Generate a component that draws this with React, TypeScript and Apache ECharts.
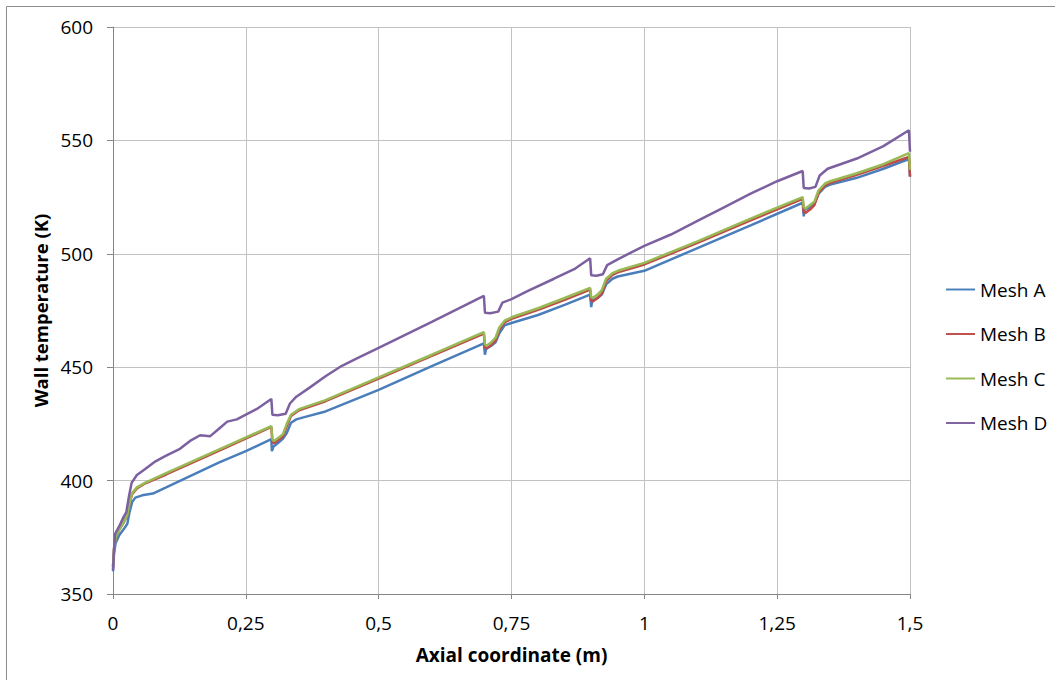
import React, { useEffect, useRef } from "react";
import * as echarts from "echarts";

const seriesNames = ["Mesh A", "Mesh B", "Mesh C", "Mesh D"];
const seriesColors = ["#4a7ebb", "#be4b48", "#98b954", "#7d60a0"];

const meshA: [number, number][] = [
  [0, 360], [0.002, 368], [0.005, 372.5], [0.012, 376], [0.02, 378.5], [0.027, 381], [0.031, 386], [0.036, 390.5],
  [0.042, 392.5], [0.055, 393.5], [0.075, 394.3], [0.1, 397], [0.15, 402.5], [0.2, 408], [0.25, 413], [0.298, 418.3],
  [0.299, 413], [0.302, 415], [0.31, 416.5], [0.32, 418.5], [0.327, 421], [0.335, 425.5], [0.345, 427], [0.36, 428],
  [0.4, 430.5], [0.5, 440], [0.6, 450.5], [0.698, 460.5], [0.7, 455.5], [0.702, 458], [0.712, 459.5], [0.72, 461],
  [0.727, 465], [0.737, 468.5], [0.75, 469.5], [0.8, 473], [0.85, 477.5], [0.898, 482], [0.9, 476.5], [0.902, 479.5],
  [0.912, 480.5], [0.92, 482], [0.928, 486.5], [0.94, 489], [0.95, 490], [1, 492.5], [1.1, 502.5], [1.2, 512.5],
  [1.298, 522.5], [1.3, 516.5], [1.302, 519.5], [1.312, 520.5], [1.32, 522], [1.328, 526.5], [1.34, 529.5],
  [1.35, 530.5], [1.4, 533.5], [1.45, 537.5], [1.498, 541.8], [1.5, 534],
];

const meshB: [number, number][] = [
  [0, 362], [0.002, 370], [0.005, 375], [0.012, 378.5], [0.02, 381.5], [0.027, 385], [0.031, 390], [0.036, 394],
  [0.045, 396.5], [0.06, 398.7], [0.1, 402.7], [0.2, 413.2], [0.298, 423.7], [0.3, 417], [0.303, 416.5], [0.312, 418],
  [0.32, 419.5], [0.327, 424], [0.335, 428.5], [0.35, 431], [0.4, 435], [0.5, 445], [0.6, 455], [0.698, 464.8],
  [0.7, 458.8], [0.703, 458.3], [0.712, 459.8], [0.72, 461.8], [0.727, 466.5], [0.737, 469.8], [0.75, 471.3],
  [0.8, 475.3], [0.85, 479.7], [0.898, 484.2], [0.9, 479.5], [0.903, 479], [0.912, 480.5], [0.92, 482.5],
  [0.928, 488], [0.94, 490.7], [0.95, 491.8], [1, 495.3], [1.1, 504.8], [1.2, 514.7], [1.298, 524.2], [1.3, 518.5],
  [1.303, 518], [1.312, 519.5], [1.32, 521.5], [1.328, 527], [1.34, 530.2], [1.35, 531.3], [1.4, 534.8],
  [1.45, 538.8], [1.498, 542.7], [1.5, 534],
];

const meshC: [number, number][] = [
  [0, 362], [0.002, 370], [0.005, 375], [0.012, 378.5], [0.02, 381.5], [0.027, 385], [0.031, 390], [0.036, 394.5],
  [0.045, 397], [0.06, 399], [0.1, 403.3], [0.2, 413.8], [0.298, 424], [0.3, 418], [0.303, 417.5], [0.312, 419],
  [0.32, 420.5], [0.327, 425], [0.335, 429], [0.35, 431.5], [0.4, 435.5], [0.5, 445.5], [0.6, 455.5], [0.698, 465.5],
  [0.7, 460], [0.703, 459.5], [0.712, 461], [0.72, 463], [0.727, 467.5], [0.737, 470.5], [0.75, 472], [0.8, 476],
  [0.85, 480.5], [0.898, 485], [0.9, 481], [0.903, 480.5], [0.912, 482], [0.92, 484], [0.928, 489], [0.94, 491.5],
  [0.95, 492.5], [1, 496], [1.1, 505.5], [1.2, 515.5], [1.298, 525], [1.3, 520.5], [1.303, 520], [1.312, 521.5],
  [1.32, 523], [1.328, 528], [1.34, 531], [1.35, 532], [1.4, 535.5], [1.45, 539.5], [1.498, 544.4], [1.5, 537],
];

const meshD: [number, number][] = [
  [0, 360.5], [0.002, 370], [0.004, 376.5], [0.012, 380], [0.02, 384], [0.025, 386], [0.03, 393], [0.035, 399],
  [0.045, 402.5], [0.06, 405], [0.08, 408.5], [0.1, 411], [0.126, 414], [0.145, 417.5], [0.164, 420], [0.183, 419.6],
  [0.2, 423], [0.215, 426], [0.233, 427], [0.27, 431.5], [0.298, 436], [0.3, 429], [0.31, 428.8], [0.325, 429.5],
  [0.333, 434], [0.345, 437], [0.37, 441], [0.4, 446], [0.43, 450.5], [0.46, 454], [0.5, 458.5], [0.6, 470],
  [0.698, 481.5], [0.7, 474], [0.71, 473.8], [0.725, 474.5], [0.733, 478.5], [0.75, 480], [0.78, 483.5], [0.83, 489],
  [0.87, 493.5], [0.898, 498], [0.9, 490.5], [0.91, 490.3], [0.922, 491], [0.93, 495], [0.95, 497.5], [0.97, 500],
  [1, 503.5], [1.05, 508.5], [1.1, 514.5], [1.15, 520.5], [1.2, 526.5], [1.25, 532], [1.298, 536.5], [1.3, 529],
  [1.31, 528.8], [1.322, 529.5], [1.33, 534.5], [1.345, 537.5], [1.4, 542], [1.45, 547.5], [1.498, 554.5], [1.5, 545],
];

const allSeries = [meshA, meshB, meshC, meshD];

export default function App() {
  const ref = useRef<HTMLDivElement>(null);
  useEffect(() => {
    if (!ref.current) return;
    const chart = echarts.init(ref.current, undefined, { renderer: "svg" });
    const labelFont = "'Open Sans', sans-serif";
    chart.setOption({
      animation: false,
      backgroundColor: "#ffffff",
      graphic: [
        {
          type: "rect",
          shape: { x: 6.5, y: 6.5, width: 1070, height: 700 },
          style: { fill: "none", stroke: "#8c8c8c", lineWidth: 1 },
          silent: true,
        },
      ],
      grid: { left: 113, right: 145, top: 27, bottom: 86 },
      legend: {
        orient: "vertical",
        left: 946,
        top: 280,
        padding: 0,
        itemGap: 25.5,
        itemWidth: 29,
        itemHeight: 20,
        icon: "path://M0,9 L30,9 L30,11 L0,11 Z",
        textStyle: { fontFamily: labelFont, fontSize: 19, color: "#000" },
        data: seriesNames.map((n, i) => ({ name: n, itemStyle: { color: seriesColors[i] } })),
      },
      xAxis: {
        type: "value",
        min: 0,
        max: 1.5,
        interval: 0.25,
        name: "Axial coordinate (m)",
        nameLocation: "middle",
        nameGap: 51,
        nameTextStyle: { fontFamily: labelFont, fontSize: 19, fontWeight: "bold", color: "#000" },
        axisLine: { lineStyle: { color: "#868686", width: 1 } },
        axisTick: { show: true, length: 5, lineStyle: { color: "#868686" } },
        axisLabel: {
          margin: 19,
          fontFamily: labelFont,
          fontSize: 19,
          color: "#000",
          formatter: (v: number) => String(v).replace(".", ","),
        },
        splitLine: { show: true, lineStyle: { color: "#c2c2c2", width: 1 } },
      },
      yAxis: {
        type: "value",
        min: 350,
        max: 600,
        interval: 50,
        name: "Wall temperature (K)",
        nameLocation: "middle",
        nameRotate: 90,
        nameGap: 63,
        nameTextStyle: { fontFamily: labelFont, fontSize: 18.5, fontWeight: "bold", color: "#000" },
        axisLine: { show: true, lineStyle: { color: "#868686", width: 1 } },
        axisTick: { show: true, length: 6, lineStyle: { color: "#868686" } },
        axisLabel: { margin: 20, fontFamily: labelFont, fontSize: 19, color: "#000" },
        splitLine: { show: true, lineStyle: { color: "#c2c2c2", width: 1 } },
      },
      series: allSeries.map((d, i) => ({
        name: seriesNames[i],
        type: "line",
        data: d,
        symbol: "none",
        showSymbol: false,
        color: seriesColors[i],
        lineStyle: { color: seriesColors[i], width: 2.5 },
        smooth: false,
      })),
    });
    return () => chart.dispose();
  }, []);
  return (
    <div
      ref={ref}
      style={{ position: "fixed", left: 0, top: 0, width: 1055, height: 680, background: "#fff" }}
    />
  );
}
